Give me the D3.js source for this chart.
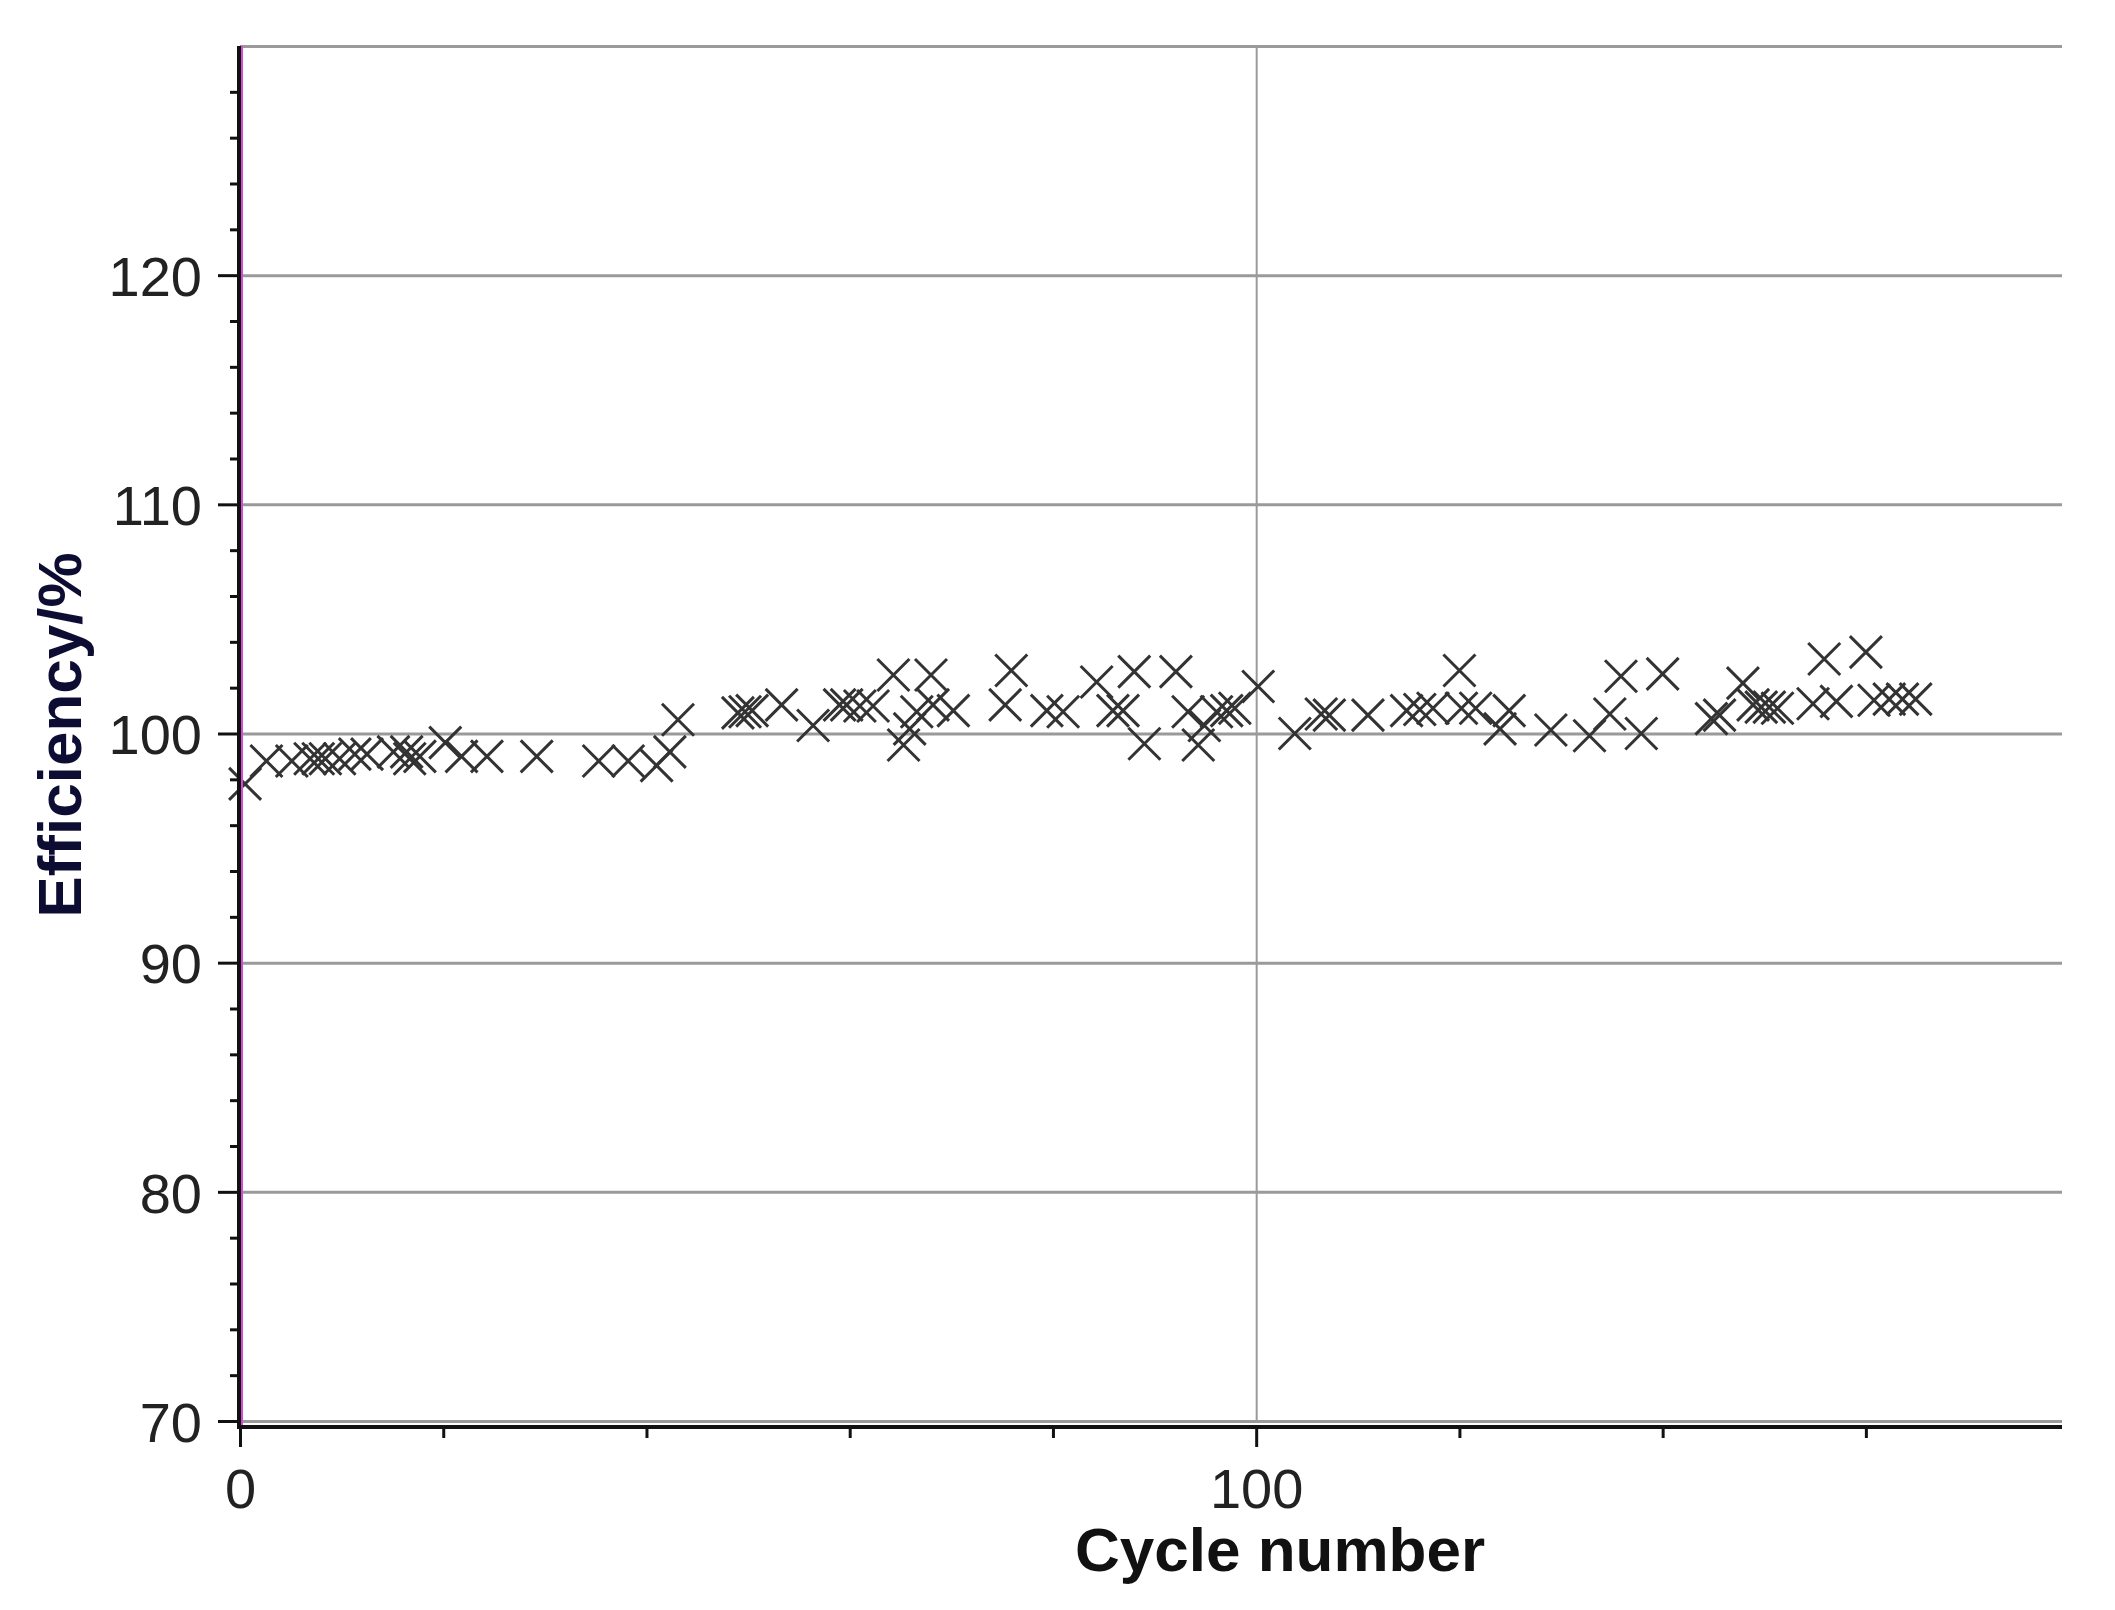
<!DOCTYPE html>
<html>
<head>
<meta charset="utf-8">
<script src="https://cdn.jsdelivr.net/npm/d3@7"></script>
<style>
  html, body { margin: 0; padding: 0; background: #ffffff; }
  svg { display: block; }
</style>
</head>
<body>
<script>
// ---------------- data ----------------
const cycles = [0.5, 2.6, 5.1, 6.9, 7.7, 8.4, 9.8, 11.3, 12.5, 15.1, 16.4, 16.7, 17.7, 20.2, 21.8, 24.3, 29.2,
  35.3, 38.2, 41.0, 42.3, 43.1, 49.0, 49.7, 50.4, 53.3, 56.4, 59.0, 59.7, 61.0, 62.3, 64.3, 65.3, 65.9, 66.6,
  68.0, 68.2, 70.2, 75.3, 75.9, 79.4, 81.0, 84.3, 85.9, 86.9, 88.0, 89.0, 92.1, 93.3, 94.3, 94.9, 96.1, 97.1,
  97.9, 100.2, 103.8, 106.4, 107.2, 111.0, 114.8, 116.1, 117.4, 120.0, 120.2, 121.6, 124.0, 124.9, 129.0,
  132.8, 134.8, 135.9, 137.9, 140.0, 144.8, 145.6, 147.9, 148.9, 149.7, 150.5, 151.3, 154.8, 155.9, 157.1,
  160.0, 160.8, 162.3, 163.6, 164.9];
const efficiency = [97.8, 98.8, 98.8, 98.9, 98.9, 98.9, 98.9, 99.1, 99.1, 99.2, 99.2, 98.9, 99.0, 99.6, 99.0, 99.0, 99.0,
  98.8, 98.8, 98.6, 99.2, 100.6, 100.9, 100.95, 101.0, 101.25, 100.35, 101.25, 101.25, 101.2, 101.2, 102.55, 99.5, 100.2, 100.95,
  102.55, 101.25, 101.0, 101.25, 102.75, 101.0, 100.95, 102.25, 101.0, 101.0, 102.7, 99.55, 102.7, 100.95, 99.5, 100.35, 100.95, 101.0,
  101.1, 102.05, 100.0, 100.85, 100.8, 100.8, 101.0, 101.05, 101.1, 102.75, 101.1, 101.1, 100.2, 101.0, 100.15,
  99.9, 100.85, 102.5, 100.0, 102.6, 100.65, 100.8, 102.2, 101.25, 101.15, 101.15, 101.1, 101.3, 103.25, 101.4,
  103.55, 101.45, 101.5, 101.5, 101.5];

const xMajorTicks = [0, 100];
const xMinorTicks = [20, 40, 60, 80, 120, 140, 160];
const xGridTicks = [100];
const yMajorTicks = [70, 80, 90, 100, 110, 120];
const yGridTicks = [70, 80, 90, 100, 110, 120, 130];
const yMinorTicks = [72, 74, 76, 78, 82, 84, 86, 88, 92, 94, 96, 98, 102, 104, 106, 108, 112, 114, 116, 118, 122, 124, 126, 128];
const xTitle = "Cycle number";
const yTitle = "Efficiency/%";

// ---------------- layout ----------------
const W = 2115, H = 1610;
const plotL = 240, plotR = 2062, plotT = 46, plotB = 1421;
const xAxisY = 1427;

const svg = d3.select("body").append("svg").attr("width", W).attr("height", H);

const x = d3.scaleLinear().domain([0, 179.3]).range([plotL, plotR]);
const y = d3.scaleLinear().domain([70, 130]).range([plotB, plotT]);

const font = "'Liberation Sans', Arial, sans-serif";
const gridColor = "#9a9a9a";

// horizontal gridlines
const gGridY = svg.append("g").attr("transform", `translate(${plotL},0)`)
  .call(d3.axisLeft(y).tickValues(yGridTicks).tickSize(-(plotR - plotL)).tickFormat(""));
gGridY.select(".domain").remove();
gGridY.selectAll(".tick line").attr("stroke", gridColor).attr("stroke-width", 3);

// vertical gridline at 100
const gGridX = svg.append("g").attr("transform", `translate(0,${plotB})`)
  .call(d3.axisBottom(x).tickValues(xGridTicks).tickSize(-(plotB - plotT)).tickFormat(""));
gGridX.select(".domain").remove();
gGridX.selectAll(".tick line").attr("stroke", gridColor).attr("stroke-width", 2);

// data markers (x shaped)
const s = 16;
const markers = svg.append("g");
const pts = cycles.map((c, i) => ({ c, e: efficiency[i] }));
markers.selectAll("path").data(pts).enter().append("path")
  .attr("d", d => {
    const px = x(d.c), py = y(d.e);
    return `M${px - s},${py - s}L${px + s},${py + s}M${px - s},${py + s}L${px + s},${py - s}`;
  })
  .attr("stroke", "#333333")
  .attr("stroke-width", 3)
  .attr("fill", "none");

// y axis: minor ticks
const gYMinor = svg.append("g").attr("transform", `translate(${plotL},0)`)
  .call(d3.axisLeft(y).tickValues(yMinorTicks).tickSize(10).tickFormat(""));
gYMinor.select(".domain").remove();
gYMinor.selectAll(".tick line").attr("stroke", "#111").attr("stroke-width", 3);

// y axis: major ticks with labels
const gYMajor = svg.append("g").attr("transform", `translate(${plotL},0)`)
  .call(d3.axisLeft(y).tickValues(yMajorTicks).tickSize(22).tickPadding(16).tickFormat(d3.format("d")));
gYMajor.select(".domain").remove();
gYMajor.selectAll(".tick line").attr("stroke", "#111").attr("stroke-width", 3);
gYMajor.selectAll(".tick text")
  .attr("font-family", font).attr("font-size", 56).attr("fill", "#222").attr("dy", "0.36em");

// y axis line (black with magenta edge)
svg.append("line").attr("x1", plotL - 1).attr("x2", plotL - 1).attr("y1", plotT).attr("y2", xAxisY + 2)
  .attr("stroke", "#111").attr("stroke-width", 4);
svg.append("line").attr("x1", plotL + 2).attr("x2", plotL + 2).attr("y1", plotT).attr("y2", xAxisY - 2)
  .attr("stroke", "#d24ad6").attr("stroke-width", 2);

// x axis: minor ticks
const gXMinor = svg.append("g").attr("transform", `translate(0,${xAxisY})`)
  .call(d3.axisBottom(x).tickValues(xMinorTicks).tickSize(11).tickFormat(""));
gXMinor.select(".domain").remove();
gXMinor.selectAll(".tick line").attr("stroke", "#111").attr("stroke-width", 3);

// x axis: major ticks + labels
const gXMajor = svg.append("g").attr("transform", `translate(0,${xAxisY})`)
  .call(d3.axisBottom(x).tickValues(xMajorTicks).tickSize(20).tickPadding(21).tickFormat(d3.format("d")));
gXMajor.select(".domain").remove();
gXMajor.selectAll(".tick line").attr("stroke", "#111").attr("stroke-width", 3);
gXMajor.selectAll(".tick text")
  .attr("font-family", font).attr("font-size", 56).attr("fill", "#222");

// x axis line
svg.append("line").attr("x1", plotL - 3).attr("x2", plotR).attr("y1", xAxisY).attr("y2", xAxisY)
  .attr("stroke", "#111").attr("stroke-width", 4);

// axis titles
svg.append("text")
  .attr("x", 1280).attr("y", 1571)
  .attr("text-anchor", "middle")
  .attr("font-family", font).attr("font-weight", "bold").attr("font-size", 62)
  .attr("fill", "#111")
  .text(xTitle);

svg.append("text")
  .attr("transform", `translate(81,735) rotate(-90)`)
  .attr("text-anchor", "middle")
  .attr("font-family", font).attr("font-weight", "bold").attr("font-size", 62)
  .attr("fill", "#0d0d33")
  .text(yTitle);
</script>
</body>
</html>
